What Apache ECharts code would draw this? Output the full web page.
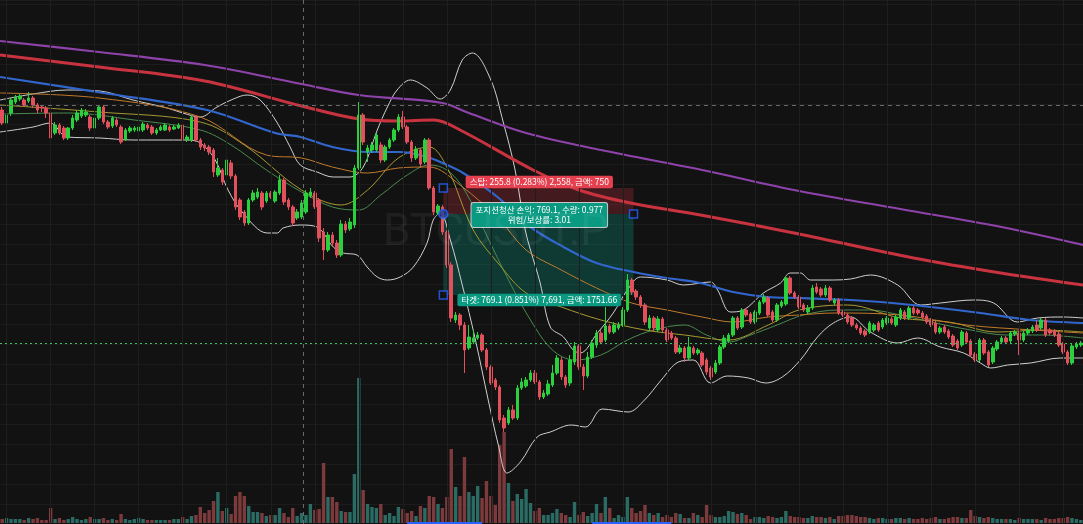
<!DOCTYPE html>
<html>
<head>
<meta charset="utf-8">
<script src="https://cdn.jsdelivr.net/npm/echarts@6/dist/echarts.min.js"></script>
<style>
html, body { margin: 0; padding: 0; background: #121212; }
#chart { width: 1083px; height: 524px; }
</style>
</head>
<body>
<div id="chart"></div>
<script>
// BTCUSDT.P candles (price per candle)
var openP = [
  91300,91170,91270,91380,91410,91400,91390,91420,91350,91330,
  91320,91270,91070,91150,91120,91020,91120,91200,91240,91250,
  91230,91120,91220,91330,91180,91140,91200,91130,91000,91090,
  91100,91090,91100,91150,91130,91070,91100,91100,91130,91110,
  91120,91150,91000,91000,91230,91000,90950,90930,90900,90650,
  90700,90650,90770,90640,90400,90280,90170,90400,90430,90470,
  90390,90470,90390,90470,90600,90400,90330,90220,90230,90280,
  90440,90470,90400,90080,89900,90050,89970,89850,90160,90110,
  90150,90720,91250,90880,90900,90900,90950,90800,90930,91000,
  91100,91230,91130,90980,90820,90900,90780,91000,90520,90270,
  90330,90080,89750,89200,89250,89150,88920,88980,89020,89050,
  88900,88730,88600,88530,88220,88170,88300,88220,88520,88540,
  88600,88670,88580,88430,88460,88550,88670,88800,88630,88570,
  88780,88940,88730,88640,88830,88950,89070,89000,89140,89080,
  89120,89150,89300,89600,89490,89430,89350,89120,89220,89100,
  89210,89100,89070,89020,88880,88920,88820,88920,88870,88870,
  88800,88720,88680,88770,88930,88990,89050,89220,89130,89300,
  89260,89180,89270,89380,89420,89280,89200,89340,89360,89620,
  89470,89430,89350,89280,89320,89530,89510,89450,89520,89370,
  89400,89280,89250,89220,89150,89120,89090,89080,89100,89170,
  89130,89170,89210,89150,89220,89280,89220,89320,89300,89270,
  89240,89200,89170,89080,89130,89090,89040,88990,88950,89070,
  88990,88860,88800,89000,88880,88780,88910,88980,89020,88990,
  89060,89070,89000,89070,89090,89150,89120,89200,89100,89090,
  89060,88960,88880,88770,88930,88950
];
var closeP = [
  91170,91250,91400,91430,91440,91350,91420,91350,91300,91320,
  91270,91020,91150,91070,91020,91120,91220,91270,91300,91280,
  91120,91220,91330,91180,91130,91220,91150,90980,91100,91120,
  91120,91130,91160,91120,91070,91100,91130,91150,91100,91130,
  91150,91000,91030,91230,91000,90930,90920,90880,90680,90720,
  90580,90800,90640,90330,90230,90170,90400,90470,90480,90330,
  90470,90430,90480,90600,90380,90330,90170,90280,90370,90470,
  90480,90330,90020,89900,90050,89970,89850,90160,90100,90180,
  90720,91250,90980,90920,90950,91050,90800,90930,91000,91100,
  91230,91130,90980,90820,90910,90760,91000,90520,90280,90340,
  90080,89750,89220,89250,89150,88900,89030,89020,89050,88900,
  88730,88570,88530,88200,88120,88300,88220,88520,88580,88600,
  88670,88580,88430,88470,88560,88670,88820,88630,88550,88800,
  88940,88730,88640,88830,88970,89070,88980,89140,89080,89150,
  89150,89300,89600,89480,89430,89350,89180,89220,89120,89210,
  89100,89000,89020,88880,88920,88820,88930,88870,88900,88750,
  88680,88630,88770,88930,89020,89050,89220,89120,89300,89250,
  89180,89280,89380,89430,89250,89200,89350,89380,89620,89470,
  89430,89330,89300,89320,89520,89480,89450,89520,89400,89400,
  89270,89250,89180,89150,89120,89070,89050,89170,89150,89100,
  89200,89220,89170,89230,89300,89220,89320,89270,89270,89230,
  89180,89150,89080,89120,89080,89030,88950,88920,89080,88980,
  88850,88800,89000,88870,88750,88920,88980,89020,88980,89070,
  89080,89000,89070,89100,89130,89100,89200,89050,89070,89050,
  88950,88880,88770,88940,88960,88970
];
var highP = [
  91330,91270,91420,91450,91460,91420,91480,91440,91370,91350,
  91340,91290,91180,91170,91140,91130,91250,91300,91320,91310,
  91250,91240,91350,91350,91200,91240,91220,91150,91120,91140,
  91140,91150,91180,91170,91150,91120,91150,91170,91150,91150,
  91170,91170,91050,91250,91250,91020,90970,90950,90920,90820,
  90720,90820,90800,90660,90420,90300,90420,90500,90520,90490,
  90490,90490,90500,90650,90620,90420,90350,90310,90400,90500,
  90520,90490,90420,90120,90080,90080,90000,90200,90190,90220,
  90750,91380,91270,90950,90980,91070,90980,90950,91020,91120,
  91260,91290,91150,91000,90940,90920,91020,91020,90540,90360,
  90350,90100,89780,89280,89270,89180,89150,89100,89080,89070,
  88920,88750,88620,88550,88250,88330,88350,88550,88620,88630,
  88700,88700,88600,88500,88600,88750,88850,88830,88650,88850,
  88980,88960,88760,88880,89000,89100,89100,89330,89160,89180,
  89180,89330,89660,89620,89510,89450,89370,89250,89240,89240,
  89230,89120,89090,89040,88950,88940,89030,88940,88920,88890,
  88820,88740,88800,88950,89050,89070,89240,89240,89320,89320,
  89280,89300,89400,89460,89440,89300,89370,89400,89640,89640,
  89490,89450,89370,89350,89550,89570,89530,89550,89540,89420,
  89420,89300,89270,89240,89170,89140,89110,89190,89170,89190,
  89220,89240,89230,89250,89320,89300,89340,89340,89320,89290,
  89260,89220,89190,89140,89150,89110,89060,89010,89100,89090,
  89010,88880,89020,89020,88900,88940,89000,89040,89040,89090,
  89100,89090,89090,89120,89150,89200,89220,89220,89120,89110,
  89080,88980,88900,88960,88980,88990
];
var lowP = [
  91150,91140,91240,91360,91390,91330,91370,91320,91270,91280,
  91220,91000,91050,91050,91000,91000,91100,91180,91220,91230,
  91090,91100,91200,91160,91110,91120,91130,90960,90990,91070,
  91080,91080,91080,91100,91050,91050,91090,91090,91080,91100,
  91110,90950,90980,90980,90980,90900,90890,90850,90630,90630,
  90550,90620,90610,90300,90200,90140,90150,90380,90410,90300,
  90370,90410,90370,90450,90350,90300,90140,90200,90210,90260,
  90420,90310,89980,89800,89880,89940,89820,89830,90070,90090,
  90120,90700,90950,90780,90870,90880,90770,90780,90910,90980,
  91080,91110,90960,90780,90800,90720,90760,90500,90250,90250,
  90050,89720,89180,89170,89100,88670,88900,88960,89000,88880,
  88700,88550,88500,88170,88080,88150,88200,88200,88500,88520,
  88580,88560,88400,88410,88440,88530,88650,88600,88520,88540,
  88750,88700,88500,88620,88810,88920,88960,88980,89060,89060,
  89100,89130,89280,89450,89400,89320,89150,89100,89090,89080,
  89080,88980,89000,88860,88860,88780,88800,88850,88850,88730,
  88650,88600,88660,88750,88910,88970,89030,89100,89110,89230,
  89160,89160,89250,89360,89230,89180,89180,89320,89340,89450,
  89410,89310,89280,89260,89300,89460,89430,89430,89380,89350,
  89250,89230,89160,89130,89100,89050,89030,89060,89080,89080,
  89110,89150,89150,89130,89200,89200,89200,89250,89250,89210,
  89160,89130,89060,89060,89060,89010,88930,88900,88930,88960,
  88830,88780,88780,88850,88730,88760,88890,88960,88960,88970,
  89040,88850,88980,89050,89070,89080,89100,89030,89050,89030,
  88930,88860,88750,88750,88910,88930
];
var volume = [
  4,5,4,4,4,3,5,4,5,3,
  3,15,4,5,3,4,6,4,3,4,
  6,4,4,5,3,4,3,9,4,3,
  4,5,4,3,3,3,3,3,3,4,
  4,6,4,7,8,16,10,13,22,31,
  12,15,9,27,31,27,17,11,11,10,
  7,8,8,15,10,6,15,7,10,8,
  19,13,14,60,26,26,21,12,11,11,
  49,145,33,19,16,15,19,8,10,7,
  16,14,10,12,7,17,15,27,26,19,
  15,26,74,36,27,66,31,27,37,25,
  42,27,18,78,91,40,22,29,24,34,
  20,12,15,8,8,10,14,10,8,6,
  21,8,11,7,10,19,10,26,15,5,
  8,6,26,15,10,12,18,10,8,10,
  6,8,6,10,9,5,5,10,8,6,
  18,8,6,6,7,12,11,9,10,8,
  4,6,6,5,7,6,5,6,12,7,
  6,6,5,5,7,6,6,5,6,4,
  7,7,8,8,7,6,6,5,4,5,
  5,4,4,5,5,4,5,4,4,5,
  4,5,6,4,4,5,6,6,5,5,
  13,7,6,5,6,5,4,4,4,4,
  3,5,4,4,4,4,3,5,4,4,
  5,5,6,5,4,3
];

// indicator lines: [candle index, price]
var maPurple = [[-0.5,91990],[22,91880],[46,91750],[68,91560],[81,91450],[100,91370],[106,91270],
  [119,91070],[136,90900],[159,90700],[181,90490],[204,90310],[227,90130],[245.5,89950]];
var maRed = [[-0.5,91850],[22,91730],[46,91590],[68,91340],[81,91210],[90,91190],[98,91200],[104,91100],
  [120.6,90700],[131,90500],[142.7,90370],[158.6,90250],[181,90060],[207,89820],[226.8,89670],[245.5,89550]];
var maBlue = [[-0.5,91630],[23,91470],[46.5,91300],[62,91070],[67.7,91030],[75,90930],[83,90880],[90.4,90880],
  [96.5,90830],[100,90770],[104.7,90670],[112.5,90430],[120,90130],[127.5,89930],[135,89770],[143.4,89680],
  [151,89620],[158.6,89570],[166,89480],[173.8,89430],[181.3,89420],[192.7,89400],[199.5,89380],
  [210.9,89330],[222.2,89270],[233.6,89200],[245.5,89170]];
var bbUpper = [[-0.5,91400],[7,91460],[14.7,91500],[22.2,91490],[29.7,91400],[37.5,91320],[41,91270],[45,91230],
  [48.8,91330],[52.5,91410],[55.6,91450],[58.6,91400],[62.5,91170],[65.4,90930],[67.7,90750],[71.5,90680],
  [75.2,90630],[79,90630],[82,90730],[85.2,91100],[87.5,91330],[89.7,91500],[92.7,91600],[96.5,91520],
  [99.5,91410],[101.8,91500],[104.5,91800],[106.8,91870],[110.9,91610],[113.8,91180],[116.5,90700],
  [118.8,90100],[120,89900],[122.2,89570],[124.5,89130],[127.5,89030],[129.7,88900],[131.3,88870],
  [135.2,89070],[138.8,89270],[142,89500],[145,89630],[151,89600],[154.7,89550],[160.9,89580],[162.5,89500],
  [165.4,89280],[168.4,89300],[172.9,89470],[176.8,89570],[179,89670],[181.3,89670],[183.6,89600],
  [188.8,89600],[192.7,89610],[197.2,89650],[203.4,89550],[208.6,89350],[213.1,89370],[220.6,89400],
  [225.2,89370],[230.6,89180],[235.2,89220],[241.1,89230],[245.5,89220]];
var bbLower = [[-0.5,91080],[7,91130],[10.9,91170],[14.7,91030],[22.2,91020],[29.7,91000],[42,91000],[45,90970],
  [48.4,90800],[51.3,90500],[54.7,90270],[60.2,90070],[62.5,90070],[63.8,90120],[67.7,90150],[71.5,90130],
  [75.2,89930],[77.5,89870],[80.6,89850],[82.9,89730],[85.2,89630],[87.5,89600],[90.4,89630],[93.4,89730],
  [96.5,89970],[97.9,90200],[99.5,90270],[101.8,90000],[104.5,89550],[107.5,89000],[110.4,88400],
  [112.7,87950],[114.7,87670],[117.7,87780],[121.5,88030],[124.5,88080],[129.3,88150],[132.5,88130],
  [136.3,88310],[142.2,88280],[145.9,88400],[149.7,88600],[153.6,88780],[157,88800],[160.9,88570],
  [164.7,88640],[169.5,88620],[173.4,88570],[177.2,88630],[181.3,88800],[185.2,89030],[188.8,89170],
  [192.7,89230],[197.2,89080],[203.4,88970],[207.9,89020],[213.1,88930],[218.4,88870],[222.2,88770],
  [224.5,88720],[228.4,88750],[233.6,88770],[240.4,88820],[245.5,88820]];
var maGreen = [[-0.5,91260],[15,91270],[30,91200],[45,91100],[52,90950],[60,90700],[68,90480],[75,90330],
  [81,90300],[86,90450],[92,90650],[97,90750],[101,90700],[105,90500],[110,90050],[115,89600],[120,89200],
  [125,88900],[130,88800],[136,88850],[142,89000],[148,89100],[155,89150],[160,89050],[165,88980],
  [170,89050],[176,89150],[182,89250],[190,89300],[197,89300],[204,89250],[212,89170],[220,89100],
  [228,89050],[236,89050],[245.5,89020]];
var maOlive = [[-0.5,91350],[22,91280],[45,91180],[55,90950],[68,90500],[77,90350],[83,90500],[90,90820],
  [97,90930],[101,90730],[107,90100],[113,89750],[119,89470],[127,89330],[136,89200],[146,89100],
  [155,89050],[165,89000],[174,89150],[181,89300],[192,89350],[204,89220],[215,89180],[226,89080],
  [236,89100],[245.5,89080]];
var maOrange = [[-0.5,91470],[22,91420],[45,91230],[60,90850],[68,90820],[75,90730],[83,90670],[90,90720],
  [97,90730],[104,90550],[113,90200],[119,89900],[127,89700],[135,89520],[143,89370],[151,89300],
  [159,89230],[166,89180],[174,89230],[181,89250],[189,89270],[204,89250],[219,89150],[234,89100],
  [245.5,89070]];

// short position tool
var posStart = 100.2, posEnd = 143.4;
var stopPrice = 90520, entryPrice = 90260, targetPrice = 89450;
var lastPrice = 88970, crossPrice = 91350, crossIndex = 68.4;

var UP = '#2bd13c', DOWN = '#e2505c';
var N = openP.length;
var cats = [], candles = [], vols = [];
for (var i = 0; i < N; i++) {
  cats.push(String(i));
  candles.push([openP[i], closeP[i], lowP[i], highP[i]]);
  vols.push({ value: volume[i], itemStyle: { color: closeP[i] >= openP[i] ? '#2a6b64' : '#7c3a3c' } });
}
var gridLines = [];
for (var k = 0; k < 25; k++) gridLines.push({ xAxis: 1 + 10 * k });

var chart = echarts.init(document.getElementById('chart'));
var thin = function (name, data, color, width) {
  return { name: name, type: 'line', xAxisIndex: 1, yAxisIndex: 0, data: data, smooth: 0.35,
    showSymbol: false, symbol: 'none', silent: true, lineStyle: { color: color, width: width }, z: 3 };
};
var lbl = { fontFamily: 'Noto Sans CJK KR', fontSize: 8.5, color: '#ffffff', padding: [2, 4], borderRadius: 2 };

chart.setOption({
  backgroundColor: '#121212',
  animation: false,
  graphic: [{
    type: 'text', left: 383, top: 212, z: 20, silent: true,
    style: { text: 'BTCUSDT.P', fontSize: 44, fontFamily: 'Roboto', fill: 'rgba(255,255,255,0.06)' }
  }],
  grid: [
    { left: 0, right: 0, top: 0, bottom: 0 },
    { left: 0, right: 0, top: 373, bottom: 1 }
  ],
  xAxis: [
    { type: 'category', gridIndex: 0, data: cats, show: false },
    { type: 'value', gridIndex: 0, min: -0.5, max: N - 0.5, show: false },
    { type: 'category', gridIndex: 1, data: cats, show: false }
  ],
  yAxis: [
    { type: 'value', gridIndex: 0, min: 87160, max: 92400, interval: 200,
      axisLabel: { show: false }, axisLine: { show: false }, axisTick: { show: false },
      splitLine: { show: true, lineStyle: { color: '#1c1c1c', width: 1 } } },
    { type: 'value', gridIndex: 1, min: 0, max: 150, show: false }
  ],
  series: [
    { name: 'grid', type: 'line', xAxisIndex: 1, yAxisIndex: 0, data: [], silent: true,
      markLine: { silent: true, symbol: 'none', label: { show: false },
        lineStyle: { color: '#1e1e1e', type: 'solid', width: 1 }, data: gridLines } },
    { name: 'Volume', type: 'bar', xAxisIndex: 2, yAxisIndex: 1, data: vols, barWidth: 3.4, silent: true,
      markLine: { silent: true, symbol: 'none', label: { show: false },
        lineStyle: { color: '#2962ff', width: 2, type: 'solid' },
        data: [[{ coord: ['92', 0.6] }, { coord: ['109', 0.6] }], [{ coord: ['134', 0.6] }, { coord: ['152', 0.6] }]] } },
    thin('BB upper', bbUpper, '#cfcfcf', 1),
    thin('BB lower', bbLower, '#cfcfcf', 1),
    thin('MA fast', maGreen, '#4a8a50', 1),
    thin('MA mid', maOlive, '#a59a30', 1),
    thin('MA slow', maOrange, '#c07a2c', 1),
    thin('MA blue', maBlue, '#3166cc', 2.2),
    thin('MA red', maRed, '#c8333f', 3),
    thin('MA purple', maPurple, '#8e43aa', 2.2),
    { name: 'BTCUSDT.P', type: 'candlestick', xAxisIndex: 0, yAxisIndex: 0, data: candles, barWidth: 3, z: 4,
      itemStyle: { color: UP, color0: DOWN, borderColor: UP, borderColor0: DOWN, borderWidth: 1 },
      markLine: { silent: true, symbol: 'none', label: { show: false },
        data: [
          { yAxis: lastPrice, lineStyle: { color: '#3fbf5f', type: [2, 3], width: 1 } },
          { yAxis: crossPrice, lineStyle: { color: '#6a6a6a', type: [4, 4], width: 1 } }
        ] } },
    { name: 'cross', type: 'line', xAxisIndex: 1, yAxisIndex: 0, data: [], silent: true,
      markLine: { silent: true, symbol: 'none', label: { show: false },
        lineStyle: { color: '#6a6a6a', type: [4, 4], width: 1 }, data: [{ xAxis: crossIndex }] } },
    { name: 'position', type: 'line', xAxisIndex: 1, yAxisIndex: 0, silent: true, z: 5,
      data: [[posStart, entryPrice], [posEnd, entryPrice]], symbol: 'none', lineStyle: { opacity: 0 },
      markArea: { silent: true, data: [
        [{ coord: [posStart, stopPrice], itemStyle: { color: 'rgba(242,54,69,0.22)' } }, { coord: [posEnd, entryPrice] }],
        [{ coord: [posStart, entryPrice], itemStyle: { color: 'rgba(8,153,129,0.3)' } }, { coord: [posEnd, targetPrice] }]
      ] },
      markPoint: { silent: true, symbol: 'rect', symbolSize: 0, data: [
        { coord: [122, stopPrice], label: Object.assign({ show: true, position: 'inside', offset: [0, -6],
            backgroundColor: '#e5404f', formatter: '스탑: 255.8 (0.283%) 2,558, 금액: 750' }, lbl) },
        { coord: [122, entryPrice], label: Object.assign({ show: true, position: 'inside', offset: [0, 1],
            backgroundColor: '#0a9a82', borderColor: 'rgba(255,255,255,0.75)', borderWidth: 1, lineHeight: 10,
            formatter: '포지션청산 손익: 769.1, 수량: 0.977\n위험/보상률: 3.01' }, lbl) },
        { coord: [122, targetPrice], label: Object.assign({ show: true, position: 'inside', offset: [0, 5],
            backgroundColor: '#0a9a82', formatter: '타겟: 769.1 (0.851%) 7,691, 금액: 1751.66' }, lbl) }
      ] } },
    { name: 'handles', type: 'scatter', xAxisIndex: 1, yAxisIndex: 0, silent: true, z: 6,
      symbol: 'rect', symbolSize: 8,
      itemStyle: { color: '#121212', borderColor: '#2962ff', borderWidth: 1.5 },
      data: [[posStart, stopPrice], [posEnd, entryPrice], [posStart, targetPrice]] },
    { name: 'entry', type: 'scatter', xAxisIndex: 1, yAxisIndex: 0, silent: true, z: 6,
      symbol: 'circle', symbolSize: 9,
      itemStyle: { color: '#1a3f9a', borderColor: '#2962ff', borderWidth: 1.5 },
      data: [[posStart, entryPrice]] }
  ]
});
</script>
</body>
</html>
